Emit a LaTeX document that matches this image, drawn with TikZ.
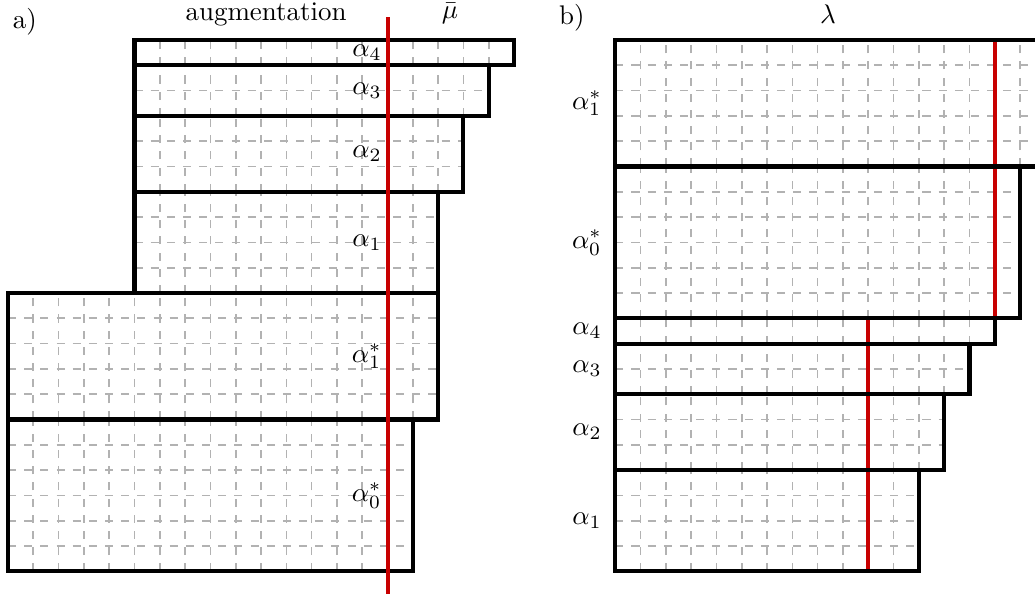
\documentclass[tikz,border=0pt]{standalone}
\usepackage{amsmath, amssymb}
\usepackage{tikz}
\definecolor{cutRed}{RGB}{200,0,0}
\tikzstyle{gridStyle}=[draw = black!30, line width = 0.6pt, dashed]
\tikzstyle{blockStyle}=[draw = black, line width = 1.5pt]
\tikzstyle{cutStyle}=[draw = cutRed, line width = 1.5pt]
\tikzstyle{labelStyle}=[anchor = east, inner sep = 2pt]

\begin{document}
\begin{tikzpicture}[x = 0.33cm, y = 0.33cm]
\useasboundingbox (-0.316,-1.107) rectangle (40.59,22.58);
% a) augmentation
\draw[gridStyle, step = 1] (0,0) grid (16,6);
\draw[gridStyle, step = 1] (0,6) grid (17,11);
\draw[gridStyle, step = 1] (5,11) grid (17,15);
\draw[gridStyle, step = 1] (5,15) grid (18,18);
\draw[gridStyle, step = 1] (5,18) grid (19,20);
\draw[gridStyle, step = 1] (5,20) grid (20,21);
\draw[blockStyle] (0,0) rectangle (16,6);
\draw[blockStyle] (0,6) rectangle (17,11);
\draw[blockStyle] (5,11) rectangle (17,15);
\draw[blockStyle] (5,15) rectangle (18,18);
\draw[blockStyle] (5,18) rectangle (19,20);
\draw[blockStyle] (5,20) rectangle (20,21);
\node[labelStyle] (a0s) at (15,3) {$\alpha_0^*$};
\node[labelStyle] (a1s) at (15,8.5) {$\alpha_1^*$};
\node[labelStyle] (a1) at (15,13) {$\alpha_1$};
\node[labelStyle] (a2) at (15,16.5) {$\alpha_2$};
\node[labelStyle] (a3) at (15,19) {$\alpha_3$};
\node[labelStyle] (a4) at (15,20.5) {$\alpha_4$};
\coordinate (muTop) at (15,21.9);
\coordinate (muBot) at (15,-0.88);
\draw[cutStyle] (muBot) -- (muTop);
\node[anchor = base] (pa) at (0.67,21.47) {a)};
\node[anchor = base] (aug) at (10.2,21.76) {augmentation};
\node[anchor = base] (mu) at (17.47,21.83) {$\bar{\mu}$};
% b) lambda
\draw[gridStyle, step = 1] (24,0) grid (36,4);
\draw[gridStyle, step = 1] (24,4) grid (37,7);
\draw[gridStyle, step = 1] (24,7) grid (38,9);
\draw[gridStyle, step = 1] (24,9) grid (39,10);
\draw[gridStyle, step = 1] (24,10) grid (40,16);
\draw[gridStyle, step = 1] (24,16) grid (41,21);
\coordinate (lamA) at (34,0);
\coordinate (lamB) at (34,10);
\coordinate (lamC) at (39,10);
\coordinate (lamD) at (39,21);
\draw[cutStyle] (lamA) -- (lamB);
\draw[cutStyle] (lamC) -- (lamD);
\draw[blockStyle] (24,0) rectangle (36,4);
\draw[blockStyle] (24,4) rectangle (37,7);
\draw[blockStyle] (24,7) rectangle (38,9);
\draw[blockStyle] (24,9) rectangle (39,10);
\draw[blockStyle] (24,10) rectangle (40,16);
\draw[blockStyle] (24,16) rectangle (41,21);
\node[labelStyle] (b1) at (23.7,2) {$\alpha_1$};
\node[labelStyle] (b2) at (23.7,5.5) {$\alpha_2$};
\node[labelStyle] (b3) at (23.7,8) {$\alpha_3$};
\node[labelStyle] (b4) at (23.7,9.5) {$\alpha_4$};
\node[labelStyle] (b0s) at (23.7,13) {$\alpha_0^*$};
\node[labelStyle] (b1s) at (23.7,18.5) {$\alpha_1^*$};
\node[anchor = base] (pb) at (22.29,21.6) {b)};
\node[anchor = base] (lam) at (32.41,21.67) {$\lambda$};
\end{tikzpicture}
\end{document}
